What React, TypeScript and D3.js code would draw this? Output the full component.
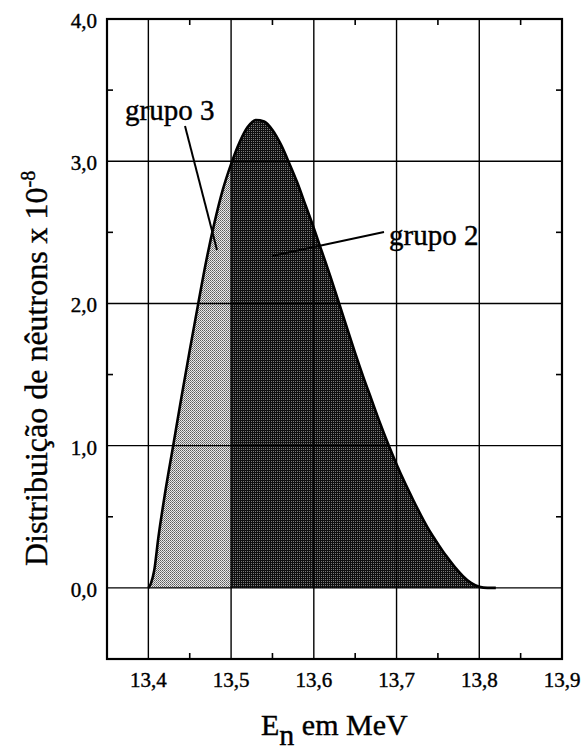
import React from "react";
import * as d3 from "d3";

// Neutron energy (MeV) and distribution (x 10^-8)
const energy = [
  13.4, 13.403, 13.407, 13.412, 13.42, 13.43, 13.44, 13.45, 13.46, 13.47, 13.48, 13.49,
  13.5, 13.51, 13.52, 13.53, 13.54, 13.55, 13.56, 13.57, 13.58, 13.59, 13.6, 13.61,
  13.62, 13.63, 13.64, 13.65, 13.66, 13.67, 13.68, 13.69, 13.7, 13.71, 13.72, 13.73,
  13.74, 13.75, 13.76, 13.77, 13.78, 13.79, 13.8, 13.81, 13.82,
];
const distribution = [
  0, 0.03, 0.12, 0.35, 0.66, 1.0, 1.34, 1.67, 1.99, 2.3, 2.57, 2.8,
  2.98, 3.13, 3.24, 3.29, 3.28, 3.22, 3.12, 2.99, 2.85, 2.69, 2.53, 2.36,
  2.19, 2.01, 1.83, 1.65, 1.48, 1.32, 1.16, 1.01, 0.87, 0.74, 0.62, 0.505,
  0.4, 0.31, 0.225, 0.15, 0.085, 0.035, 0.008, 0, 0,
];
const groupSplit = 13.5;
const xTicks = [13.4, 13.5, 13.6, 13.7, 13.8, 13.9];
const xMinorTicks = [13.45, 13.55, 13.65, 13.75, 13.85];
const yTicks = [0, 1, 2, 3, 4];
const yMinorTicks = [-0.5, 0.5, 1.5, 2.5, 3.5];
const labelGroup3 = "grupo 3";
const labelGroup2 = "grupo 2";

const W = 583;
const H = 751;
const left = 107;
const right = 562;
const top = 19;
const bottom = 659;

const font = '"Liberation Serif", Tinos, "Times New Roman", Times, "DejaVu Serif", serif';

export default function App() {
  const x = d3.scaleLinear().domain([13.35, 13.9]).range([left, right]);
  const y = d3.scaleLinear().domain([-0.5, 4.0]).range([bottom, top]);
  const pts = energy.map((e, i) => ({ e, v: distribution[i] }));
  const g3 = pts.filter((p) => p.e <= groupSplit);
  const g2 = pts.filter((p) => p.e >= groupSplit);
  const area = d3
    .area<{ e: number; v: number }>()
    .x((d) => x(d.e))
    .y0(y(0))
    .y1((d) => y(d.v))
    .curve(d3.curveMonotoneX);
  const line = d3
    .line<{ e: number; v: number }>()
    .x((d) => x(d.e))
    .y((d) => y(d.v))
    .curve(d3.curveMonotoneX);
  const fmt = (v: number) => d3.format(".1f")(v).replace(".", ",");
  const ts = { fontFamily: font } as React.CSSProperties;

  return (
    <div style={{ position: "absolute", left: 0, top: 0 }}>
      <svg width={W} height={H} style={{ display: "block", background: "#fff" }}>
        <defs>
          <pattern id="light" width={2} height={2} patternUnits="userSpaceOnUse">
            <rect width={2} height={2} fill="#e8e8e8" />
            <rect x={0} y={0} width={1} height={1} fill="#5a5a5a" />
            <rect x={1} y={1} width={1} height={1} fill="#808080" />
          </pattern>
          <pattern id="dark" width={2} height={2} patternUnits="userSpaceOnUse">
            <rect width={2} height={2} fill="#101010" />
            <rect x={1} y={1} width={1} height={1} fill="#7a7a7a" />
          </pattern>
        </defs>

        {/* fills */}
        <path d={area(g3) || ""} fill="url(#light)" />
        <path d={area(g2) || ""} fill="url(#dark)" />

        {/* grid */}
        {xTicks.slice(0, -1).map((t) => (
          <line key={"gx" + t} x1={x(t)} x2={x(t)} y1={top} y2={bottom} stroke="#000" strokeWidth={1.4} />
        ))}
        {yTicks.slice(0, -1).map((t) => (
          <line key={"gy" + t} x1={left} x2={right} y1={y(t)} y2={y(t)} stroke="#000" strokeWidth={1.4} />
        ))}

        {/* minor ticks */}
        {xMinorTicks.map((t) => (
          <g key={"mx" + t}>
            <line x1={x(t)} x2={x(t)} y1={bottom} y2={bottom - 6} stroke="#000" strokeWidth={1.6} />
            <line x1={x(t)} x2={x(t)} y1={top} y2={top + 6} stroke="#000" strokeWidth={1.6} />
          </g>
        ))}
        {yMinorTicks.map((t) => (
          <g key={"my" + t}>
            <line x1={left} x2={left + 6} y1={y(t)} y2={y(t)} stroke="#000" strokeWidth={1.6} />
            <line x1={right} x2={right - 6} y1={y(t)} y2={y(t)} stroke="#000" strokeWidth={1.6} />
          </g>
        ))}

        {/* curve */}
        <path d={line(pts) || ""} fill="none" stroke="#000" strokeWidth={2.6} strokeLinejoin="round" />

        {/* frame */}
        <rect x={left} y={top} width={right - left} height={bottom - top} fill="none" stroke="#000" strokeWidth={2.2} />

        <g fill="#000" stroke="#000" strokeWidth={0.4}>
          {/* tick labels */}
          {xTicks.map((t) => (
            <text key={"tx" + t} x={x(t)} y={687} textAnchor="middle" style={ts} fontSize={21}>
              {fmt(t)}
            </text>
          ))}
          {yTicks.map((t) => (
            <text key={"ty" + t} x={97} y={y(t) + 9} textAnchor="end" style={ts} fontSize={21}>
              {fmt(t)}
            </text>
          ))}

          {/* annotations */}
          <text x={125} y={120} style={ts} fontSize={29}>
            {labelGroup3}
          </text>
          <text x={389} y={245} style={ts} fontSize={29}>
            {labelGroup2}
          </text>

          {/* axis titles */}
          <text x={261} y={735} style={ts} fontSize={30}>
            E<tspan dy={10}>n</tspan>
            <tspan dy={-10}> em MeV</tspan>
          </text>
          <text transform="translate(47,566) rotate(-90)" style={ts} fontSize={32}>
            Distribuição de nêutrons x 10<tspan dy={-12} fontSize={20}>-8</tspan>
          </text>
        </g>
        <line x1={185} y1={126} x2={217} y2={250} stroke="#000" strokeWidth={2} />
        <line x1={384} y1={232} x2={272} y2={256} stroke="#000" strokeWidth={2} />
      </svg>
    </div>
  );
}
